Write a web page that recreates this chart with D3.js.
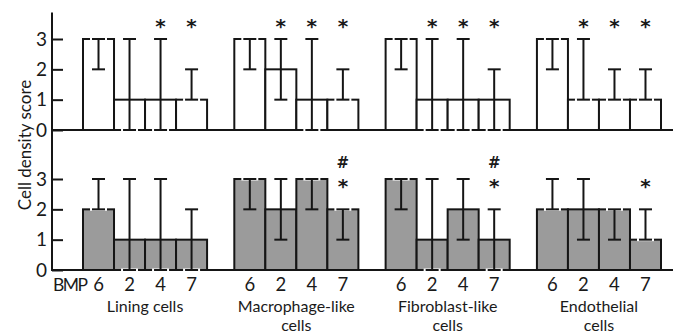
<!DOCTYPE html>
<html>
<head>
<meta charset="utf-8">
<script src="https://cdn.jsdelivr.net/npm/d3@7"></script>
<style>
  body { margin: 0; background: #fff; }
  svg text { font-family: Lato, "Open Sans", "Liberation Sans", sans-serif; fill: #1a1a1a; }
</style>
</head>
<body>
<div id="chart"></div>
<script>
// categories
var groups = ["Lining cells", "Macrophage-like cells", "Fibroblast-like cells", "Endothelial cells"];
var groupLines = [["Lining cells"], ["Macrophage-like", "cells"], ["Fibroblast-like", "cells"], ["Endothelial", "cells"]];
var bmps = ["6", "2", "4", "7"];
var yTicks = [0, 1, 2, 3];

// upper panel (white bars): median, range low, range high, marks
var topMedian = [[3, 1, 1, 1], [3, 2, 1, 1], [3, 1, 1, 1], [3, 1, 1, 1]];
var topLow    = [[2, 0, 0, 1], [2, 1, 0, 1], [2, 0, 0, 0], [2, 1, 1, 1]];
var topHigh   = [[3, 3, 3, 2], [3, 3, 3, 2], [3, 3, 3, 2], [3, 3, 2, 2]];
var topMarks  = [["", "", "*", "*"], ["", "*", "*", "*"], ["", "*", "*", "*"], ["", "*", "*", "*"]];

// lower panel (grey bars)
var botMedian = [[2, 1, 1, 1], [3, 2, 3, 2], [3, 1, 2, 1], [2, 2, 2, 1]];
var botLow    = [[2, 0, 0, 0], [2, 1, 2, 1], [2, 0, 1, 0], [2, 1, 1, 1]];
var botHigh   = [[3, 3, 3, 2], [3, 3, 3, 2], [3, 3, 3, 2], [3, 3, 2, 2]];
var botMarks  = [["", "", "", ""], ["", "", "", "#*"], ["", "", "", "#*"], ["", "", "", "*"]];

var svgWidth = 679, svgHeight = 334;
var axisX = 52;

var svg = d3.select("#chart").append("svg")
  .attr("width", svgWidth)
  .attr("height", svgHeight);

var x0 = d3.scaleBand().domain(groups).range([83, 661]).paddingInner(0.18).paddingOuter(0);
var x1 = d3.scaleBand().domain(bmps).range([0, x0.bandwidth()]);

var yTop = d3.scaleLinear().domain([0, 3]).range([130, 39]);
var yBot = d3.scaleLinear().domain([0, 3]).range([270, 179]);

var panels = [
  {y: yTop, fill: "#ffffff", med: topMedian, lo: topLow, hi: topHigh, marks: topMarks, starY: 3.6, hashY: 3.6},
  {y: yBot, fill: "#9b9b9b", med: botMedian, lo: botLow, hi: botHigh, marks: botMarks, starY: 2.92, hashY: 3.55}
];

var capW = 13;

panels.forEach(function(p) {
  var rows = [];
  groups.forEach(function(g, i) {
    bmps.forEach(function(b, j) {
      rows.push({g: g, b: b, v: p.med[i][j], lo: p.lo[i][j], hi: p.hi[i][j], mark: p.marks[i][j]});
    });
  });
  var cx = function(d) { return x0(d.g) + x1(d.b) + x1.bandwidth() / 2; };

  var g = svg.append("g");

  g.selectAll("rect").data(rows).enter().append("rect")
    .attr("x", d => x0(d.g) + x1(d.b))
    .attr("y", d => p.y(d.v))
    .attr("width", x1.bandwidth())
    .attr("height", d => p.y(0) - p.y(d.v))
    .attr("fill", p.fill)
    .attr("stroke", "#151515")
    .attr("stroke-width", 2);

  // zero line
  g.append("line")
    .attr("x1", axisX).attr("x2", 673)
    .attr("y1", p.y(0)).attr("y2", p.y(0))
    .attr("stroke", "#151515").attr("stroke-width", 2);

  // little white gaps where a cap sits on a bar edge
  var halo = [];
  rows.forEach(function(d) {
    [d.lo, d.hi].forEach(function(e) {
      if (e === d.v || e === 0) halo.push({d: d, e: e});
    });
  });
  g.selectAll(".halo").data(halo).enter().append("line")
    .attr("class", "halo")
    .attr("x1", h => cx(h.d) - capW / 2 - 2)
    .attr("x2", h => cx(h.d) + capW / 2 + 2)
    .attr("y1", h => p.y(h.e)).attr("y2", h => p.y(h.e))
    .attr("stroke", "#fff").attr("stroke-width", 3);

  var err = g.selectAll(".err").data(rows).enter().append("g").attr("class", "err")
    .attr("stroke", "#151515").attr("stroke-width", 2);
  err.append("line")
    .attr("x1", cx).attr("x2", cx)
    .attr("y1", d => p.y(d.lo)).attr("y2", d => p.y(d.hi));
  err.append("line")
    .attr("x1", d => cx(d) - capW / 2).attr("x2", d => cx(d) + capW / 2)
    .attr("y1", d => p.y(d.lo)).attr("y2", d => p.y(d.lo));
  err.append("line")
    .attr("x1", d => cx(d) - capW / 2).attr("x2", d => cx(d) + capW / 2)
    .attr("y1", d => p.y(d.hi)).attr("y2", d => p.y(d.hi));

  // significance marks
  var marked = rows.filter(d => d.mark !== "");
  g.selectAll(".star").data(marked.filter(d => d.mark.indexOf("*") >= 0)).enter().append("text")
    .attr("x", cx)
    .attr("y", d => p.y(p.starY) + 12)
    .attr("text-anchor", "middle")
    .style("font-family", "'DejaVu Sans', sans-serif")
    .style("font-weight", "bold")
    .style("font-size", "20px")
    .text("*");
  g.selectAll(".hash").data(marked.filter(d => d.mark.indexOf("#") >= 0)).enter().append("text")
    .attr("x", cx)
    .attr("y", d => p.y(p.hashY) + 6)
    .attr("text-anchor", "middle")
    .style("font-family", "'DejaVu Sans', sans-serif")
    .style("font-weight", "bold")
    .style("font-size", "15px")
    .text("#");

  // y axis ticks
  var ax = svg.append("g")
    .attr("transform", "translate(" + axisX + ",0)")
    .call(d3.axisLeft(p.y).tickValues(yTicks).tickFormat(d3.format("d")).tickSize(-11).tickPadding(5));
  ax.select(".domain").remove();
  ax.selectAll(".tick line").attr("stroke", "#151515").attr("stroke-width", 2);
  ax.selectAll(".tick text").attr("fill", "#1a1a1a").style("font-size", "19px")
    .style("font-family", "Lato, 'Open Sans', sans-serif");
});

// y axis spine
svg.append("line")
  .attr("x1", axisX).attr("x2", axisX)
  .attr("y1", yTop(3.87)).attr("y2", yBot(0) + 1)
  .attr("stroke", "#151515").attr("stroke-width", 2);

// axis title
svg.append("text")
  .attr("transform", "translate(31,145) rotate(-90)")
  .attr("text-anchor", "middle")
  .style("font-size", "17px")
  .text("Cell density score");

// x labels
svg.append("text")
  .attr("x", axisX + 1).attr("y", 291)
  .style("font-size", "17.5px")
  .style("letter-spacing", "-1.5px")
  .text("BMP");

groups.forEach(function(g, i) {
  bmps.forEach(function(b) {
    svg.append("text")
      .attr("x", x0(g) + x1(b) + x1.bandwidth() / 2)
      .attr("y", 291)
      .attr("text-anchor", "middle")
      .style("font-size", "18.5px")
      .text(b);
  });
  groupLines[i].forEach(function(line, k) {
    svg.append("text")
      .attr("x", x0(g) + x0.bandwidth() / 2)
      .attr("y", 311.5 + k * 19.3)
      .attr("text-anchor", "middle")
      .style("font-size", "16px")
      .text(line);
  });
});
</script>
</body>
</html>
